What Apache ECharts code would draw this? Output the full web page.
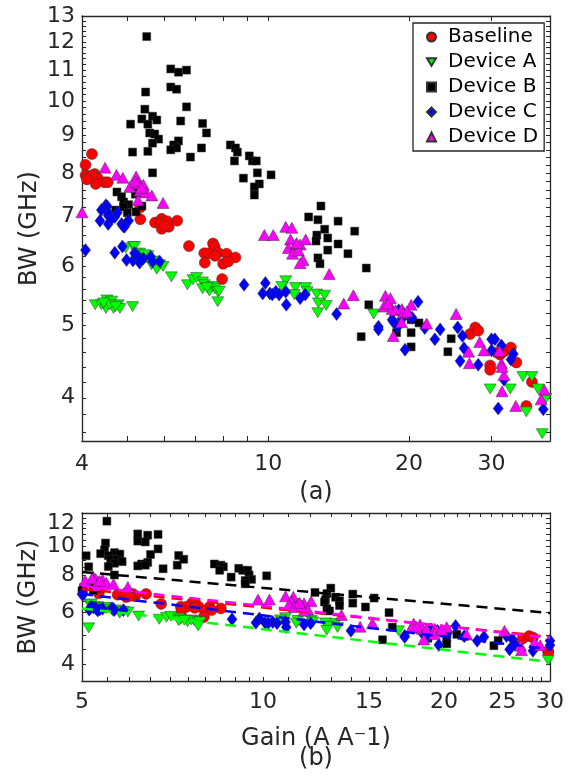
<!DOCTYPE html>
<html>
<head>
<meta charset="utf-8">
<script src="https://cdn.jsdelivr.net/npm/echarts@6/dist/echarts.min.js"></script>
<style>
html,body{margin:0;padding:0;background:#fff;}
#chart{width:574px;height:783px;}
</style>
</head>
<body>
<div id="chart"></div>
<script>
// ---------------- data (Gain in A/A, BW in GHz) ----------------
const baseline = [
 [4.20,8.49],[4.07,8.21],[4.07,7.95],[4.12,7.92],[4.26,7.98],[4.32,7.88],[4.28,7.74],[4.47,7.78],[4.54,7.78],[4.20,7.95],[4.10,7.85],
 [5.33,7.20],[5.33,6.94],[5.73,6.87],[5.92,6.95],[5.88,6.86],[6.13,6.78],[5.92,6.74],[6.39,6.91],[6.08,6.90],[6.00,6.80],
 [6.77,6.39],[7.62,6.44],[7.68,6.38],[7.30,6.25],[7.46,6.25],[7.81,6.26],[8.15,6.24],[8.51,6.17],[7.32,6.07],[8.01,6.05],[8.21,6.09],[7.97,5.77],[7.70,6.20],
 [27.0,4.87],[27.7,4.97],[28.1,4.92],[29.8,4.42],[29.8,4.36],[31.3,4.57],[32.0,4.62],[33.0,4.67],[33.9,4.46],[36.6,4.20],[35.6,3.90],[30.8,4.60]
];
const deviceA = [
 [4.27,5.33],[4.40,5.33],[4.52,5.41],[4.50,5.27],[4.63,5.39],[4.67,5.27],[4.78,5.33],[4.82,5.27],[5.13,5.30],[4.58,5.33],[4.72,5.30],[4.45,5.36],
 [4.96,6.35],[5.15,6.38],[5.18,6.38],[5.24,6.25],[5.31,6.25],[5.28,6.20],[5.49,6.16],[5.53,6.20],[5.63,6.03],[5.68,6.10],[5.77,5.98],[5.86,6.03],[5.96,6.00],[5.78,5.95],[6.21,5.81],[5.45,6.22],[5.40,6.12],
 [6.72,5.67],[6.91,5.76],[7.03,5.80],[7.24,5.72],[7.30,5.67],[7.24,5.60],[7.49,5.56],[7.60,5.64],[7.69,5.60],[7.80,5.55],[7.86,5.56],[7.80,5.38],[7.40,5.62],
 [10.9,5.74],[10.69,5.64],[11.43,5.62],[12.02,5.62],[11.36,5.50],[12.1,5.55],[12.7,5.51],[13.2,5.49],[12.8,5.36],[13.3,5.32],[12.76,5.20],[16.8,5.18],
 [29.8,4.11],[32.9,4.11],[35.0,4.27],[36.6,4.27],[37.7,4.11],[35.6,3.83],[39.2,3.99],[38.5,3.58]
];
const deviceB = [
 [5.50,12.2],[6.19,11.04],[6.43,10.93],[6.69,11.0],[6.19,10.44],[6.37,10.37],[5.47,10.28],[6.69,9.82],[5.45,9.75],[5.66,9.54],
 [5.37,9.46],[5.78,9.43],[6.50,9.40],[5.08,9.31],[5.53,9.31],[7.24,9.33],[7.38,9.06],[5.58,9.06],[5.72,9.03],[5.83,8.89],
 [6.43,8.84],[5.66,8.78],[6.28,8.73],[6.37,8.65],[6.19,8.60],[7.20,8.65],[5.13,8.54],[5.53,8.56],[6.82,8.41],[8.30,8.73],
 [8.51,8.65],[8.59,8.54],[8.47,8.31],[9.11,8.44],[8.85,7.88],[5.66,8.01],[9.25,8.31],[9.43,8.31],[9.48,8.01],[10.14,7.96],
 [9.57,7.74],[9.34,7.67],[9.34,7.48],
 [4.75,7.55],[4.86,7.44],[4.91,7.32],[5.03,7.26],[4.91,7.21],[4.72,7.14],[5.00,7.08],[5.22,7.10],[5.37,7.23],[5.20,7.50],[5.24,7.53],
 [12.96,7.23],[12.2,6.99],[12.77,6.93],[14.1,6.90],[13.2,6.73],[15.3,6.69],[12.7,6.61],[13.4,6.55],[12.65,6.49],[14.1,6.43],
 [13.4,6.31],[14.8,6.24],[12.77,6.16],[12.9,6.05],[16.2,5.97],[16.4,5.33],[15.8,4.83],
 [20.2,5.09],[21.0,5.04],[20.2,4.89],[18.8,4.89],[20.2,4.68],[24.6,4.80],[24.2,4.61]
];
const deviceC = [
 [4.50,7.25],[4.53,7.22],[4.40,7.14],[4.55,7.08],[4.55,7.02],[4.37,6.91],[4.55,6.84],[4.70,6.99],[4.76,7.08],[4.86,6.84],[4.90,6.79],[5.00,6.89],[5.03,6.91],[4.93,6.78],[4.62,6.95],
 [4.07,6.31],[4.70,6.26],[4.88,6.38],[4.98,6.12],[5.14,6.11],[5.18,6.25],[5.27,6.18],[5.31,6.07],[5.41,6.15],[5.22,6.22],[5.61,6.18],[5.66,6.09],[5.86,6.09],[5.35,6.12],
 [8.88,5.67],[9.86,5.70],[9.73,5.52],[10.08,5.52],[10.38,5.55],[10.55,5.50],[10.9,5.55],[10.93,5.33],[11.7,5.44],[12.0,5.50],[14.0,5.18],[17.2,4.98],[10.2,5.50],
 [17.2,4.94],[18.4,5.09],[18.5,5.06],[19.0,5.24],[19.6,4.64],[20.9,5.38],[21.6,4.96],[22.7,4.79],[23.3,4.94],[25.4,4.97],[26.0,4.84],[26.2,4.66],[25.7,4.48],
 [28.1,4.43],[30.0,4.79],[30.5,4.79],[30.0,4.63],[33.4,4.58],[33.0,4.50],[31.9,4.23],[31.0,3.87],[38.7,3.86],[31.5,4.70],[20.0,5.15],[19.3,5.10],[19.5,5.18],[20.3,5.12],[18.9,4.98]
];
const deviceD = [
 [4.00,7.09],[4.48,8.14],[4.74,7.96],[4.89,7.89],[5.22,7.92],[5.06,7.67],[5.27,7.76],[5.41,7.72],[5.32,7.58],[5.49,7.54],[5.64,7.47],[5.27,7.36],[5.96,7.30],[5.20,7.80],[5.35,7.65],
 [9.81,6.61],[10.25,6.61],[10.9,6.78],[11.23,6.76],[11.16,6.52],[12.02,6.52],[11.04,6.35],[11.45,6.41],[11.7,6.42],[11.27,6.24],[11.6,6.30],[11.87,6.12],[11.7,6.06],[13.5,5.86],[15.2,5.49],[14.5,5.35],[11.5,6.45],
 [17.8,5.48],[18.24,5.44],[17.65,5.30],[18.4,5.26],[18.7,5.24],[19.3,5.26],[19.45,5.20],[20.2,5.33],[19.27,5.05],[18.5,4.84],[21.8,5.03],[25.2,5.18],
 [26.8,4.61],[26.9,4.45],[28.3,4.75],[28.9,4.63],[31.2,4.62],[31.5,4.45],[31.9,4.29],[31.6,4.40],[31.6,4.08],[33.8,3.90],[38.9,4.10],[38.3,3.98],[19.8,5.22],[18.0,5.35]
];
// power-law fits (panel b), endpoints at Gain = 5 and 30
const fitGain = [5, 30];
const fitBaseline = [7.18, 4.94];
const fitA = [6.17, 4.06];
const fitB = [8.20, 5.95];
const fitC = [6.90, 4.49];
const fitD = [7.35, 4.90];

// axis ticks / labels
const topXLabels = [4, 10, 20, 30];
const topXTicks = [4, 5, 6, 7, 8, 9, 10, 20, 30];
const topYLabels = [4, 5, 6, 7, 8, 9, 10, 11, 12, 13];
const botXLabels = [5, 10, 15, 20, 25, 30];
const botXTicks = [5, 5.5, 6, 6.5, 7, 7.5, 8, 8.5, 9, 9.5, 10, 11, 12, 13, 14, 15, 16, 17, 18, 19, 20, 21, 22, 23, 24, 25, 26, 27, 28, 29, 30];
const botYLabels = [4, 6, 8, 10, 12];
const botYTicks = [3.5, 4, 4.5, 5, 5.5, 6, 6.5, 7, 7.5, 8, 8.5, 9, 9.5, 10, 10.5, 11, 11.5, 12, 12.5, 13];
const topYTicks = [];
for (let k = 18; k <= 65; k++) topYTicks.push(k / 5);

// ---------------- chart ----------------
const L = Math.log10;
const INK = '#262626';
const FONT = 'DejaVu Sans';
const pts = a => a.map(p => [L(p[0]), L(p[1])]);
const fmt = v => String(Math.round(Math.pow(10, v)));
const DOWN_TRI = 'path://M0,0L12,0L6,10Z';

const styles = [
  {name: 'Baseline', data: baseline, symbol: 'circle', size: 11, color: '#FF0000', fit: fitBaseline},
  {name: 'Device A', data: deviceA, symbol: DOWN_TRI, size: [12, 10], color: '#00FF00', fit: fitA},
  {name: 'Device B', data: deviceB, symbol: 'rect', size: 8, color: '#000000', fit: fitB},
  {name: 'Device C', data: deviceC, symbol: 'diamond', size: [10, 13], color: '#0000FF', fit: fitC},
  {name: 'Device D', data: deviceD, symbol: 'triangle', size: [12, 11], color: '#FF00FF', fit: fitD}
];

function ax(grid, pos, min, max, ticks, labels, tlen, lmargin, name, gap) {
  return {
    type: 'value', gridIndex: grid, position: pos, min: L(min), max: L(max),
    axisLine: {show: true, onZero: false, lineStyle: {color: INK, width: 1.3}},
    axisTick: {show: true, inside: true, length: tlen, customValues: ticks.map(L), lineStyle: {color: INK, width: 1}},
    axisLabel: labels ? {show: true, customValues: labels.map(L), formatter: fmt, margin: lmargin,
      fontSize: 22, fontFamily: FONT, color: INK} : {show: false},
    splitLine: {show: false},
    name: name || '', nameLocation: 'middle', nameGap: gap || 0, nameMoveOverlap: false,
    nameTextStyle: {fontSize: 24, fontFamily: FONT, color: INK}
  };
}

const series = [];
styles.forEach(s => {
  [0, 1].forEach(g => {
    series.push({
      type: 'scatter', name: s.name, xAxisIndex: g * 2, yAxisIndex: g * 2,
      data: pts(s.data), symbol: s.symbol, symbolSize: s.size, symbolKeepAspect: false,
      clip: true, z: 2,
      itemStyle: {color: s.color, borderColor: '#333', borderWidth: 0.5, opacity: 1},
      emphasis: {disabled: true}
    });
  });
});
styles.forEach(s => {
  series.push({
    type: 'line', name: s.name + ' fit', xAxisIndex: 2, yAxisIndex: 2,
    data: [[L(fitGain[0]), L(s.fit[0])], [L(fitGain[1]), L(s.fit[1])]],
    showSymbol: false, symbol: 'none', z: 5,
    lineStyle: {color: s.color, width: 2.5, type: [11, 7]}
  });
});

const option = {
  animation: false,
  backgroundColor: '#fff',
  grid: [
    {left: 82, top: 16, width: 468, height: 425},
    {left: 82, top: 513, width: 468, height: 168}
  ],
  xAxis: [
    ax(0, 'bottom', 4, 40, topXTicks, topXLabels, 5, 12),
    ax(0, 'top', 4, 40, topXTicks, null, 5, 0),
    ax(1, 'bottom', 5, 30, botXTicks, botXLabels, 4, 10, 'Gain (A A\u207B1)', 46),
    ax(1, 'top', 5, 30, botXTicks, null, 4, 0)
  ],
  yAxis: [
    ax(0, 'left', 3.5, 13, topYTicks, topYLabels, 4, 7, 'BW (GHz)', 40),
    ax(0, 'right', 3.5, 13, topYTicks, null, 4, 0),
    ax(1, 'left', 3.5, 13, botYTicks, botYLabels, 4, 7, 'BW (GHz)', 41),
    ax(1, 'right', 3.5, 13, botYTicks, null, 4, 0)
  ],
  legend: {
    data: styles.map(s => ({name: s.name, icon: s.symbol})),
    orient: 'vertical', left: 413, top: 23,
    itemWidth: 9, itemHeight: 9, itemGap: 5,
    padding: [4, 6, 4, 13],
    backgroundColor: '#fff', borderColor: INK, borderWidth: 1.3, borderRadius: 0,
    textStyle: {fontSize: 20, fontFamily: FONT, color: '#000', padding: [0, 0, 0, 7]},
    selectedMode: false, z: 10
  },
  graphic: [
    {type: 'text', x: 316, y: 493, style: {text: '(a)', font: '24px "DejaVu Sans"', fill: INK, align: 'center', verticalAlign: 'middle'}},
    {type: 'text', x: 316, y: 759, style: {text: '(b)', font: '24px "DejaVu Sans"', fill: INK, align: 'center', verticalAlign: 'middle'}}
  ],
  series: series
};

const chart = echarts.init(document.getElementById('chart'), null, {renderer: 'canvas'});
chart.setOption(option);
</script>
</body>
</html>
